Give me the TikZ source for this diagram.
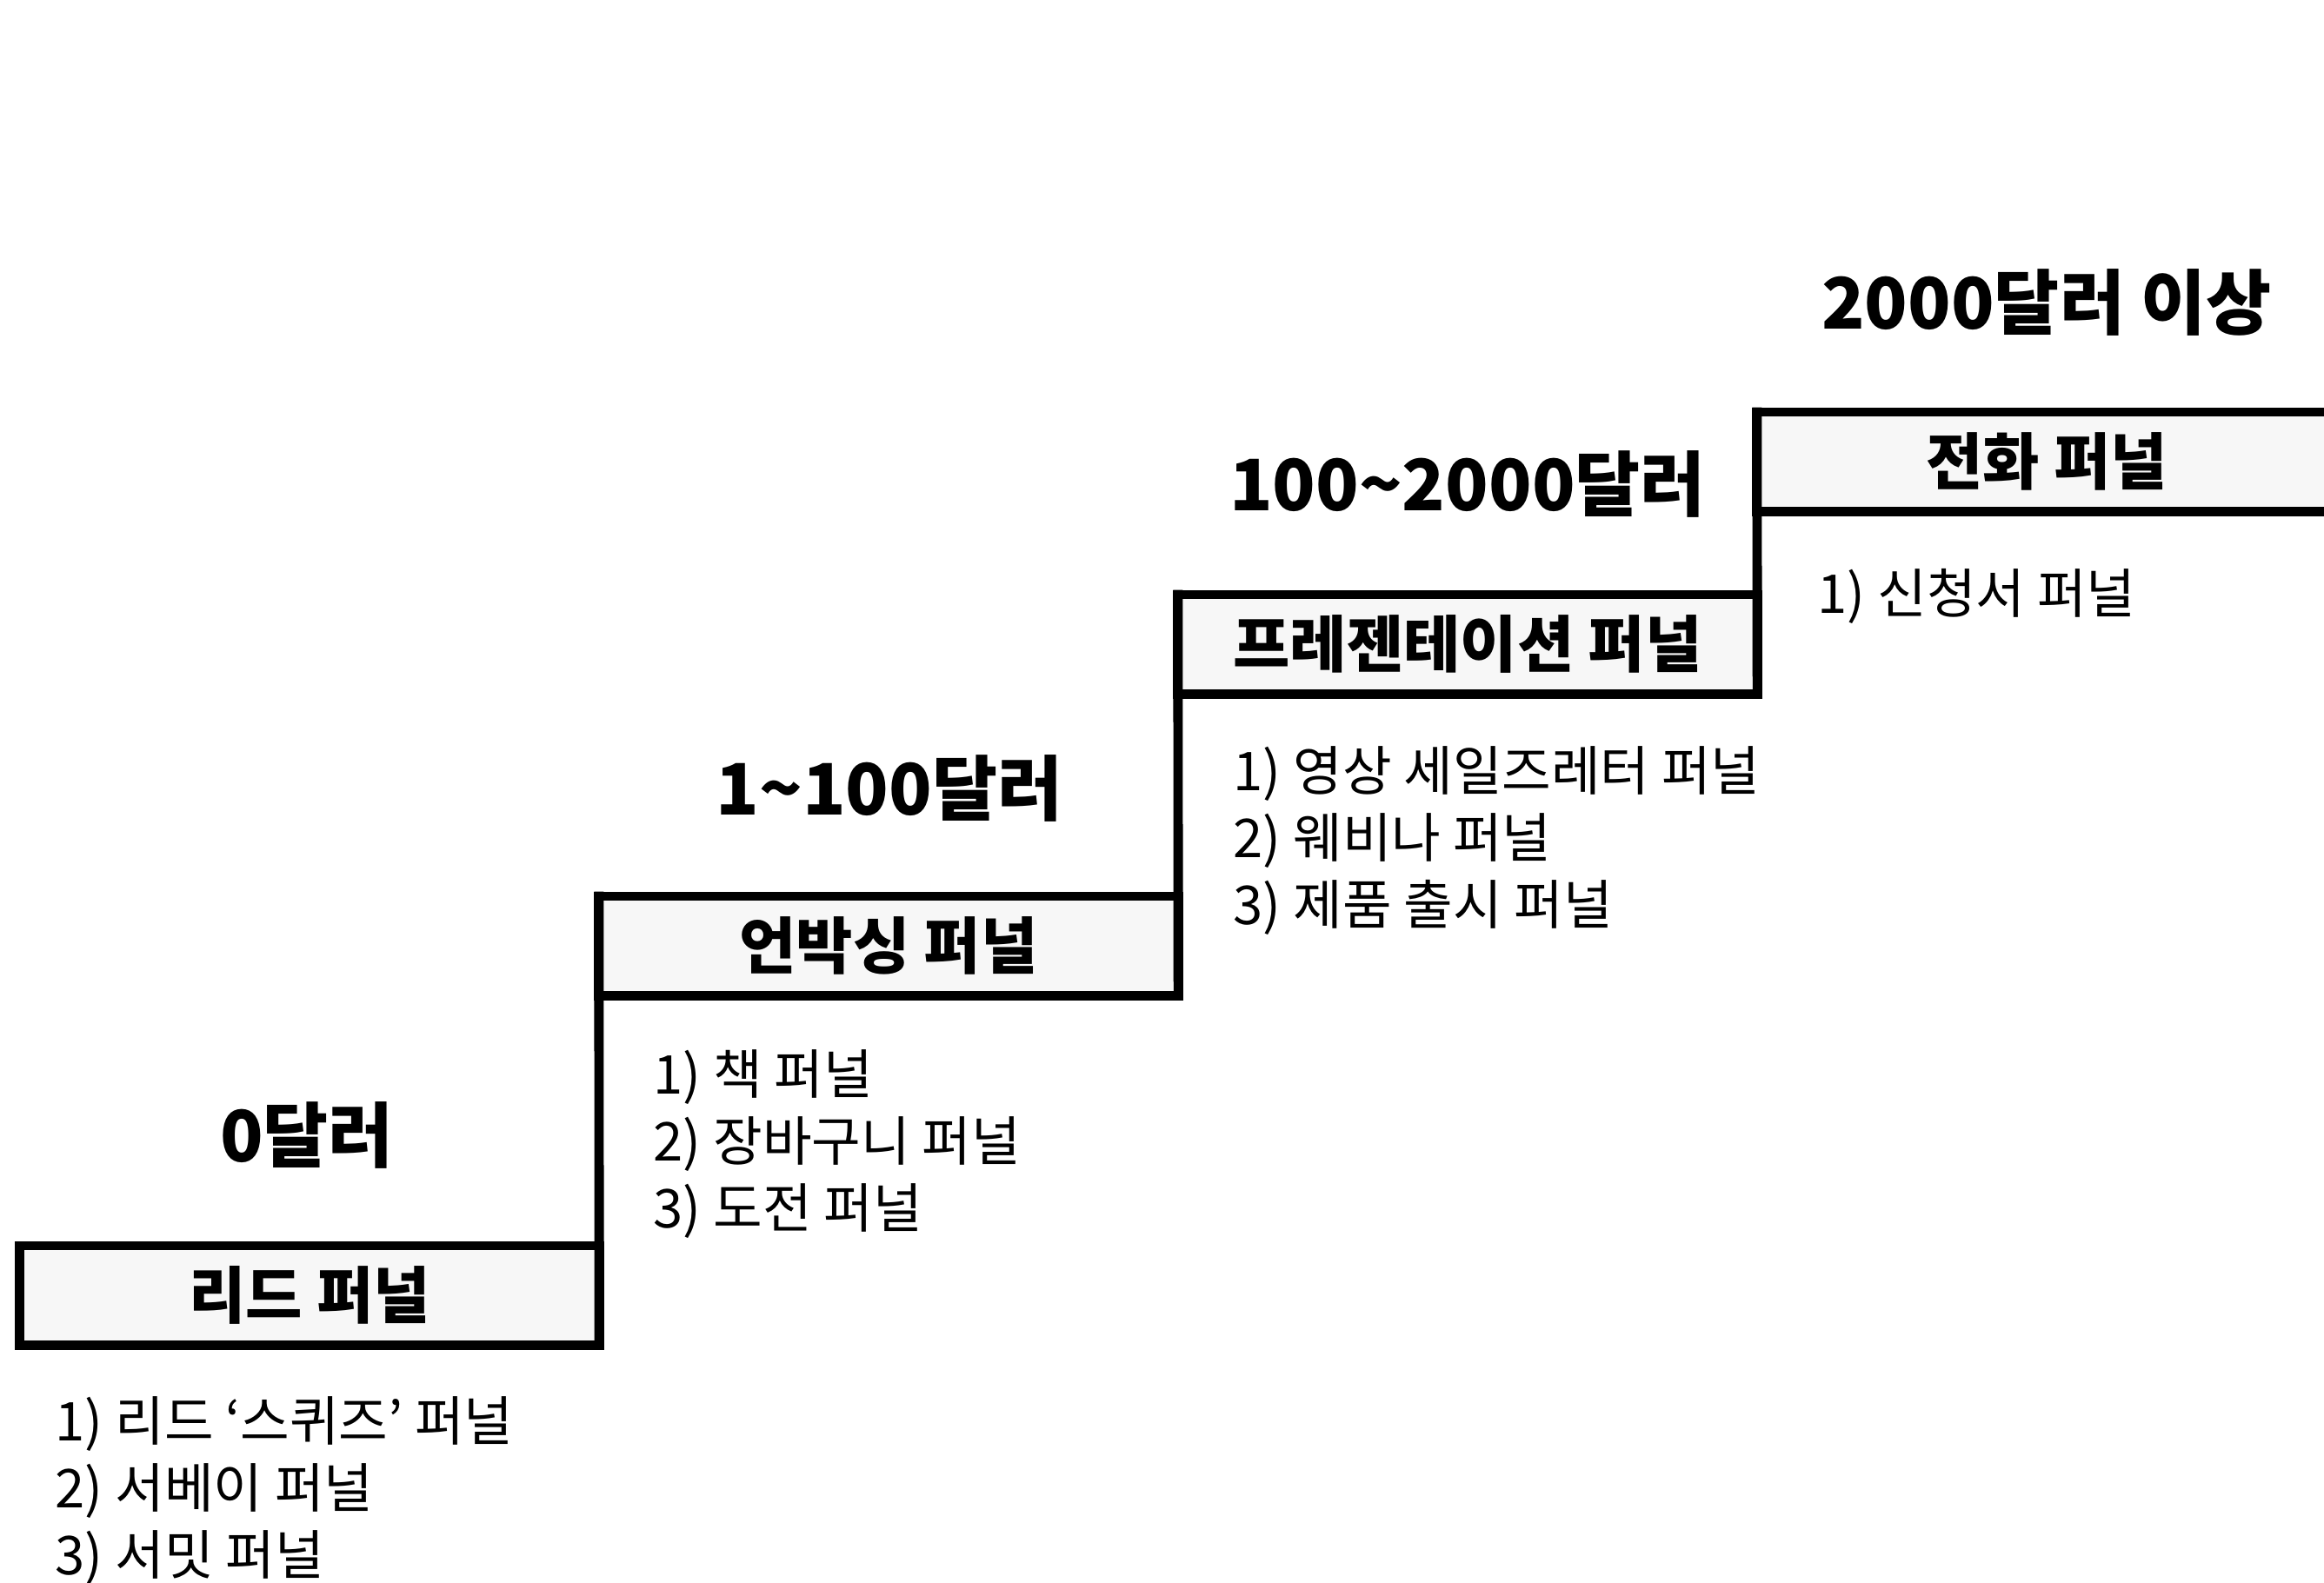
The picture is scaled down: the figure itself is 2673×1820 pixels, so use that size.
\documentclass[tikz,border=0pt]{standalone}
\usepackage{fontspec}
\setmainfont{Noto Sans CJK KR}
\begin{document}
\begin{tikzpicture}[x=0.01cm,y=-0.01cm,
  stairbox/.style={draw=black, line width=3.1pt, fill=black!3, rectangle, inner sep=0pt, outer sep=0pt,
    minimum width=6.66cm, minimum height=1.14cm, font=\bfseries\fontsize{20.2}{23}\selectfont},
  riser/.style={draw=black, line width=3.1pt, line cap=rect},
  price/.style={font=\bfseries\fontsize{23.2}{27}\selectfont, inner sep=0pt},
  items/.style={font=\fontsize{17.5}{21.9}\selectfont, align=left, anchor=west, inner sep=0pt}]
\useasboundingbox (0,0) rectangle (2673,1820);
\fill[white] (0,0) rectangle (2673,1820);
% boxes
\node[stairbox] (b1) at (356,1490) {리드 퍼널};
\node[stairbox] (b2) at (1022,1088) {언박싱 퍼널};
\node[stairbox] (b3) at (1688,741) {프레젠테이션 퍼널};
\node[stairbox] (b4) at (2354,531) {전화 퍼널};
% risers
\draw[riser] (b1.south east) -- (b2.north west);
\draw[riser] (b2.south east) -- (b3.north west);
\draw[riser] (b3.south east) -- (b4.north west);
% prices
\node[price] (p1) at (353,1306) {0달러};
\node[price] (p2) at (1023,907) {1\textasciitilde100달러};
\node[price] (p3) at (1688,557) {100\textasciitilde2000달러};
\node[price] (p4) at (2354,348) {2000달러 이상};
% items
\node[items] (l1) at (63,1715) {1) 리드 ‘스퀴즈’ 퍼널\\2) 서베이 퍼널\\3) 서밋 퍼널};
\node[items] (l2) at (751,1316) {1) 책 퍼널\\2) 장바구니 퍼널\\3) 도전 퍼널};
\node[items] (l3) at (1418,967) {1) 영상 세일즈레터 퍼널\\2) 웨비나 퍼널\\3) 제품 출시 퍼널};
\node[items] (l4) at (2090,686) {1) 신청서 퍼널};
\end{tikzpicture}
\end{document}
